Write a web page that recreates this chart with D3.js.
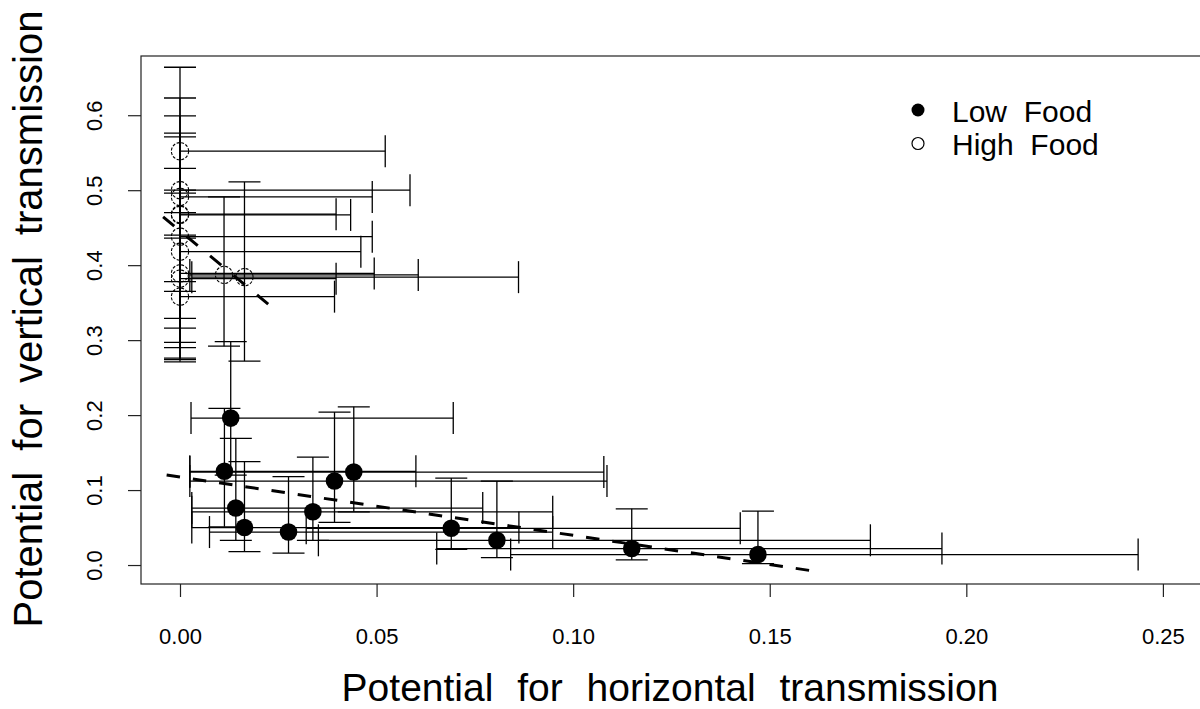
<!DOCTYPE html>
<html><head><meta charset="utf-8">
<script src="https://cdn.jsdelivr.net/npm/d3@7"></script>
<style>
html,body{margin:0;padding:0;background:#fff;}
svg{display:block;font-family:"Liberation Sans",Arial,Helvetica,sans-serif;}
</style></head><body>
<svg id="chart" width="1200" height="709"></svg>
<script>
// ---------- data ----------
const seriesNames = ["Low  Food", "High  Food"];

// Low food (filled circles)
const lowX    = [0.0129, 0.0113, 0.0142, 0.0164, 0.0276, 0.0338, 0.0393, 0.0442, 0.0690, 0.0806, 0.1149, 0.1470];
const lowXlo  = [0.0028, 0.0025, 0.0030, 0.0030, 0.0075, 0.0030, 0.0025, 0.0025, 0.0321, 0.0352, 0.0653, 0.0841];
const lowXhi  = [0.0695, 0.0600, 0.0770, 0.0862, 0.0948, 0.0948, 0.1086, 0.1078, 0.1425, 0.1756, 0.1938, 0.2437];
const lowY    = [0.196, 0.125, 0.076, 0.050, 0.044, 0.071, 0.112, 0.124, 0.049, 0.033, 0.022, 0.014];
const lowYlo  = [0.120, 0.051, 0.033, 0.018, 0.016, 0.033, 0.057, 0.071, 0.021, 0.010, 0.007, 0.002];
const lowYhi  = [0.298, 0.209, 0.169, 0.138, 0.118, 0.144, 0.204, 0.211, 0.116, 0.112, 0.075, 0.072];

// High food (open circles)
const highX   = [0, 0, 0, 0, 0, 0, 0, 0, 0, 0, 0.0112, 0.0164];
const highXlo = [0, 0, 0, 0, 0, 0, 0, 0, 0, 0, 0.0025, 0.0030];
const highXhi = [0.0522, 0.0585, 0.0489, 0.0397, 0.0434, 0.0489, 0.0460, 0.0494, 0.0397, 0.0393, 0.0606, 0.0861];
const highY   = [0.552, 0.500, 0.491, 0.468, 0.467, 0.438, 0.418, 0.389, 0.382, 0.358, 0.387, 0.384];
const highYlo = [0.436, 0.378, 0.365, 0.329, 0.316, 0.297, 0.274, 0.271, 0.290, 0.276, 0.292, 0.272];
const highYhi = [0.664, 0.623, 0.599, 0.576, 0.571, 0.529, 0.500, 0.496, 0.470, 0.440, 0.491, 0.511];

// Fitted dashed lines: [intercept, slope, xFrom, xTo]
const fitLow  = [0.1174, -0.7781, -0.0034, 0.1606];
const fitHigh = [0.4456, -4.347, -0.0043, 0.0250];

// Axes
const xTicks = [0, 0.05, 0.10, 0.15, 0.20, 0.25];
const xTickLabels = ["0.00", "0.05", "0.10", "0.15", "0.20", "0.25"];
const yTicks = [0, 0.1, 0.2, 0.3, 0.4, 0.5, 0.6];
const yTickLabels = ["0.0", "0.1", "0.2", "0.3", "0.4", "0.5", "0.6"];
const xDomain = [-0.00992, 0.2602];
const yDomain = [-0.0253, 0.679];
const xTitle = "Potential for horizontal transmission";
const yTitle = "Potential for vertical transmission";

// ---------- drawing ----------
const svg = d3.select("#chart");
const box = {left: 141, right: 1203, top: 56, bottom: 584};
const x = d3.scaleLinear().domain(xDomain).range([box.left, box.right]);
const y = d3.scaleLinear().domain(yDomain).range([box.bottom, box.top]);

svg.append("rect").attr("width", 1200).attr("height", 709).attr("fill", "#fff");

const CAP = 16;
const ink = "#000";

function errorBars(g, xs, xlo, xhi, ys, ylo, yhi) {
  xs.forEach((xv, i) => {
    const px = x(xv), py = y(ys[i]);
    const segs = [];
    [ylo[i], yhi[i]].forEach(v => {
      if (Math.abs(v - ys[i]) > 1e-9) {
        segs.push([px, py, px, y(v)]);
        segs.push([px - CAP, y(v), px + CAP, y(v)]);
      }
    });
    [xlo[i], xhi[i]].forEach(v => {
      if (Math.abs(v - xv) > 1e-9) {
        segs.push([px, py, x(v), py]);
        segs.push([x(v), py - CAP, x(v), py + CAP]);
      }
    });
    g.selectAll(null).data(segs).enter().append("line")
      .attr("x1", d => d[0]).attr("y1", d => d[1])
      .attr("x2", d => d[2]).attr("y2", d => d[3])
      .attr("stroke", ink).attr("stroke-width", 1.3);
  });
}

const plot = svg.append("g");

plot.selectAll("circle.low").data(lowX).enter().append("circle")
  .attr("cx", d => x(d)).attr("cy", (d, i) => y(lowY[i])).attr("r", 8.8)
  .attr("fill", ink);
plot.selectAll("circle.high").data(highX).enter().append("circle")
  .attr("cx", d => x(d)).attr("cy", (d, i) => y(highY[i])).attr("r", 8.6)
  .attr("fill", "none").attr("stroke", ink).attr("stroke-width", 1.1)
  .attr("stroke-dasharray", "3,1.6");

errorBars(plot.append("g"), lowX, lowXlo, lowXhi, lowY, lowYlo, lowYhi);
errorBars(plot.append("g"), highX, highXlo, highXhi, highY, highYlo, highYhi);

function fitLine(f, dash) {
  const pts = [f[2], f[3]].map(v => [v, f[0] + f[1] * v]);
  plot.append("path")
    .attr("d", d3.line().x(d => x(d[0])).y(d => y(d[1]))(pts))
    .attr("fill", "none").attr("stroke", ink).attr("stroke-width", 3)
    .attr("stroke-dasharray", dash);
}
fitLine(fitLow, "13.5,13");
fitLine(fitHigh, "14.5,16");

svg.append("rect")
  .attr("x", box.left).attr("y", box.top)
  .attr("width", box.right - box.left).attr("height", box.bottom - box.top)
  .attr("fill", "none").attr("stroke", "#222").attr("stroke-width", 1.2);

const xAxis = svg.append("g").attr("transform", `translate(0,${box.bottom})`)
  .call(d3.axisBottom(x).tickValues(xTicks).tickSize(13)
        .tickFormat((d, i) => xTickLabels[i]));
xAxis.select(".domain").remove();
xAxis.selectAll(".tick line").attr("stroke", "#222").attr("stroke-width", 1.2);
xAxis.selectAll(".tick text").attr("y", 60).attr("dy", 0)
  .attr("font-size", 22).attr("fill", ink)
  .attr("font-family", "Liberation Sans, Arial, sans-serif");

const yAxis = svg.append("g").attr("transform", `translate(${box.left},0)`)
  .call(d3.axisLeft(y).tickValues(yTicks).tickSize(13)
        .tickFormat((d, i) => yTickLabels[i]));
yAxis.select(".domain").remove();
yAxis.selectAll(".tick line").attr("stroke", "#222").attr("stroke-width", 1.2);
yAxis.selectAll(".tick text")
  .attr("x", 0).attr("dy", 0).attr("text-anchor", "middle")
  .attr("transform", "translate(-39,0) rotate(-90)")
  .attr("font-size", 22).attr("fill", ink)
  .attr("font-family", "Liberation Sans, Arial, sans-serif");

svg.append("text").attr("x", 670).attr("y", 701).attr("text-anchor", "middle")
  .attr("font-size", 39).attr("word-spacing", 13).attr("fill", ink).text(xTitle);
svg.append("text").attr("transform", "translate(42,319) rotate(-90)")
  .attr("text-anchor", "middle")
  .attr("font-size", 40).attr("word-spacing", 10).attr("fill", ink).text(yTitle);

const leg = svg.append("g");
const legY = [110, 143.5];
leg.append("circle").attr("cx", 918).attr("cy", legY[0]).attr("r", 6.5).attr("fill", ink);
leg.append("circle").attr("cx", 918).attr("cy", legY[1]).attr("r", 6)
  .attr("fill", "none").attr("stroke", ink).attr("stroke-width", 1.2);
leg.selectAll("text").data(seriesNames).enter().append("text")
  .attr("x", 952).attr("y", (d, i) => legY[i] + 11.5)
  .attr("font-size", 30).attr("fill", ink)
  .style("white-space", "pre").text(d => d);
</script>
</body></html>
